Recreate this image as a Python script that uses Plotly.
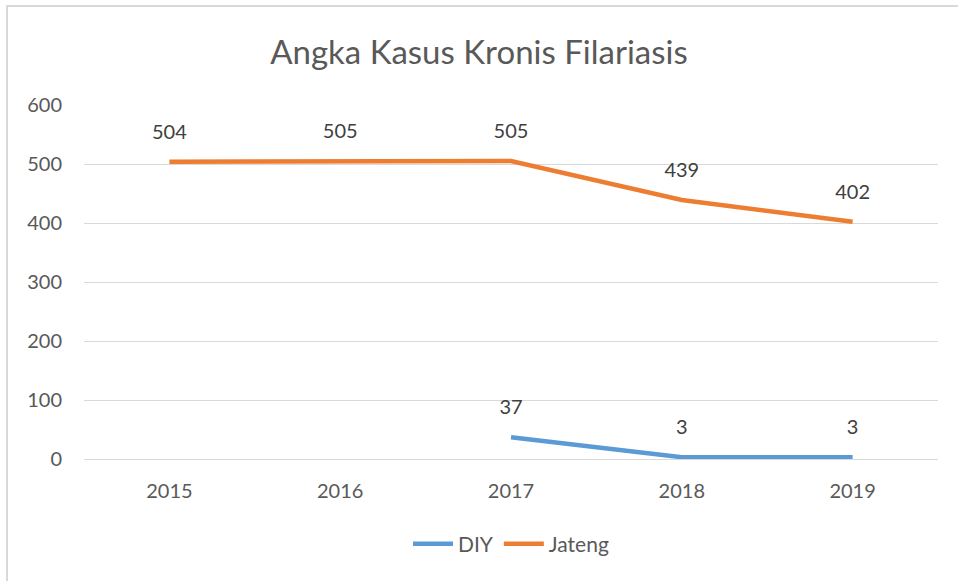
import plotly.graph_objects as go

years = ["2015", "2016", "2017", "2018", "2019"]
diy = [None, None, 37, 3, 3]
jateng = [504, 505, 505, 439, 402]

FONT = "Lato, 'Open Sans', sans-serif"
fig = go.Figure()
fig.add_trace(go.Scatter(x=years, y=diy, name="DIY", mode="lines",
                         line=dict(color="#5B9BD5", width=4.5), connectgaps=False))
fig.add_trace(go.Scatter(x=years, y=jateng, name="Jateng", mode="lines",
                         line=dict(color="#ED7D31", width=4.5)))

# data labels
for series in (diy, jateng):
    fig.add_trace(go.Scatter(
        x=years, y=series, mode="markers+text", showlegend=False, hoverinfo="skip",
        text=[("" if v is None else str(v)) for v in series],
        textposition="top center",
        marker=dict(size=27, opacity=0),
        textfont=dict(size=20, color="#404040", family=FONT)))

L, R, T, B = 84, 20, 105, 122
W, H = 958, 581
pw, ph = W - L - R, H - T - B
fig.add_shape(type="rect", xref="paper", yref="paper",
              x0=(7 - L) / pw, x1=(975 - L) / pw,
              y0=(H - B - 600) / ph, y1=(H - B - 6) / ph,
              line=dict(color="#D9D9D9", width=2), fillcolor="rgba(0,0,0,0)", layer="below")

fig.update_layout(
    width=W, height=H,
    margin=dict(l=L, r=R, t=T, b=B),
    paper_bgcolor="white", plot_bgcolor="white",
    title=dict(text="Angka Kasus Kronis Filariasis", x=0.5, xanchor="center",
               y=1 - 52 / H, yanchor="middle",
               font=dict(size=33, color="#595959", family=FONT)),
    font=dict(family=FONT, color="#595959", size=20),
    xaxis=dict(type="category", range=[-0.5, 4.5], showgrid=False, showline=False,
               ticks="", tickfont=dict(size=20, color="#595959"), ticklabelstandoff=18),
    yaxis=dict(range=[0, 600], dtick=100, showgrid=True, gridcolor="#D9D9D9", gridwidth=1.3,
               zeroline=True, zerolinecolor="#D9D9D9", zerolinewidth=1.3,
               showline=False, ticks="", tickfont=dict(size=20, color="#595959"),
               ticklabelstandoff=21),
    showlegend=True,
    legend=dict(orientation="h", x=0.5, xanchor="center", y=(H - B - 544) / ph,
                yanchor="middle", font=dict(size=21, color="#595959"),
                itemwidth=40),
)

fig.write_html("out.html", config={"displayModeBar": False},
               post_script="document.body.style.margin='0';document.body.style.overflow='hidden';")
